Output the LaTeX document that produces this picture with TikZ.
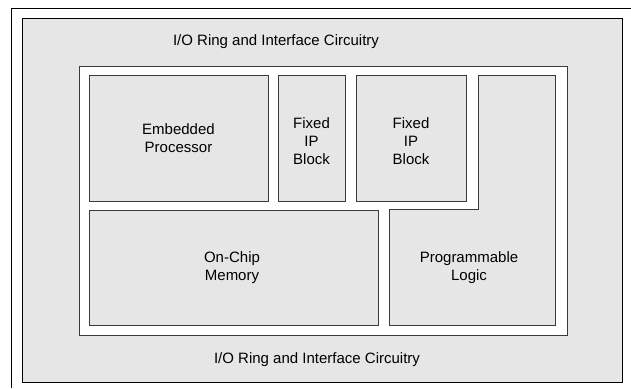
\documentclass[tikz,border=0pt]{standalone}
\usepackage{fontspec}
\setmainfont{Liberation Sans}
\definecolor{ringgray}{HTML}{E6E6E6}
\definecolor{edgegray}{HTML}{3A3A3A}
\tikzset{
	blockbox/.style={draw=edgegray, fill=ringgray, line width=0.9pt},
	blocktext/.style={align=center, inner sep=0pt, font=\fontsize{15}{18}\selectfont}
}
\begin{document}
\begin{tikzpicture}[x=1pt, y=-1pt]
	\useasboundingbox (0,0) rectangle (631,388);
	%outer frame
	\draw[line width=0.9pt] (11,388) -- (11,8) -- (631,8);
	
	%i/o ring
	\draw[blockbox, draw=black] (22,18) rectangle (622,382);
	\node[blocktext] (ringtop) at (276,41.5) {I/O Ring and Interface Circuitry};
	\node[blocktext] (ringbottom) at (317,359.5) {I/O Ring and Interface Circuitry};
	
	%core area
	\draw[draw=edgegray, fill=white, line width=0.9pt] (79,66) rectangle (567,335);
	
	%blocks
	\draw[blockbox] (89,75) rectangle (268,201);
	\node[blocktext] (cpu) at (178.5,138) {Embedded\\Processor};
	
	\draw[blockbox] (278,75) rectangle (345,201);
	\node[blocktext] (ipa) at (311.5,141) {Fixed\\IP\\Block};
	
	\draw[blockbox] (356,75) rectangle (466,201);
	\node[blocktext] (ipb) at (411,141) {Fixed\\IP\\Block};
	
	\draw[blockbox] (89,210) rectangle (378,325);
	\node[blocktext] (mem) at (232,268) {On-Chip\\Memory};
	
	\draw[blockbox] (478,75) -- (555,75) -- (555,325) -- (389,325) -- (389,209) -- (478,209) -- cycle;
	\node[blocktext] (logic) at (469,268) {Programmable\\Logic};
\end{tikzpicture}
\end{document}
